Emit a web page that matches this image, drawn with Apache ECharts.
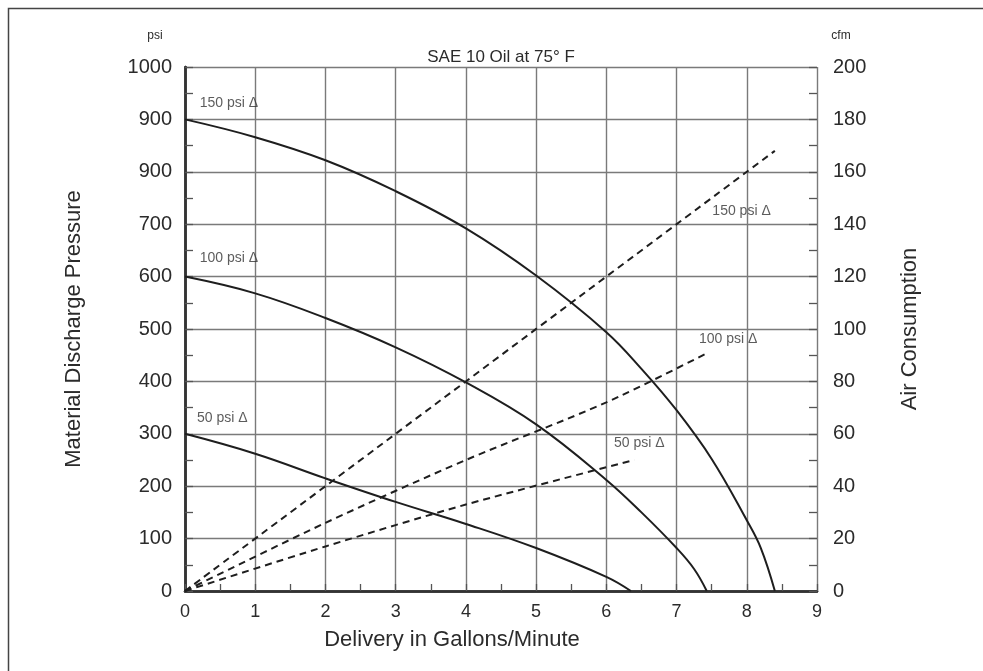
<!DOCTYPE html>
<html>
<head>
<meta charset="utf-8">
<script src="https://cdn.jsdelivr.net/npm/echarts@6/dist/echarts.min.js"></script>
<style>
html,body{margin:0;padding:0;background:#fff;}
#chart{width:983px;height:671px;}
</style>
</head>
<body>
<div id="chart"></div>
<script>
// ---- data ----
const xTicks = ['0','1','2','3','4','5','6','7','8','9'];
const pressureTickLabels = ['0','100','200','300','400','500','600','700','900','900','1000'];
const cfmTickLabels = ['0','20','40','60','80','100','120','140','160','180','200'];

// Material discharge pressure (psi) vs delivery (gpm)
const pressure150 = [[0,900],[1,866],[2,822],[3,763],[4,692],[5,602],[6,494],[6.5,424],[7,345],[7.5,252],[8,135],[8.2,82],[8.4,0]];
const pressure100 = [[0,600],[1,568],[2,521],[3,465],[4,398],[5,318],[6,212],[6.5,150],[7,82],[7.25,42],[7.43,0]];
const pressure50  = [[0,300],[1,262],[2,215],[3,170],[4,128],[5,82],[6,27],[6.35,0]];

// Air consumption (cfm) vs delivery (gpm)
const air150 = [[0,0],[8.4,168]];
const air100 = [[0,0],[2,26],[4,50],[6,72],[7.45,91]];
const air50  = [[0,0],[2,17],[4,33],[6.4,50]];

const pressureLabels = [[0.21,931,'150 psi Δ'],[0.21,635,'100 psi Δ'],[0.17,330,'50 psi Δ']];
const airLabels = [[7.51,145,'150 psi Δ'],[7.32,96,'100 psi Δ'],[6.11,56.5,'50 psi Δ']];

const titleText = 'SAE 10 Oil at 75° F';
const xName = 'Delivery in Gallons/Minute';
const yLeftName = 'Material Discharge Pressure';
const yRightName = 'Air Consumption';

// ---- chart ----
const FONT = 'Liberation Sans, Arial, sans-serif';
const INK = '#2b2b2b';
const chart = echarts.init(document.getElementById('chart'));

function solid(data){
  return {type:'line', xAxisIndex:0, yAxisIndex:0, data:data, smooth:0.4, showSymbol:false,
    lineStyle:{color:'#1e1e1e', width:2}, z:5, animation:false, silent:true};
}
function dashed(data){
  return {type:'line', xAxisIndex:0, yAxisIndex:1, data:data, smooth:0.3, showSymbol:false,
    lineStyle:{color:'#1e1e1e', width:2, type:[7,5]}, z:5, animation:false, silent:true};
}
function labelSeries(items, axisIdx){
  return {type:'scatter', yAxisIndex:axisIdx, symbolSize:0, animation:false, silent:true, z:6,
    data: items.map(d=>({value:[d[0],d[1]], name:d[2]})),
    label:{show:true, position:[0,0], align:'left', verticalAlign:'middle',
      formatter:p=>p.name, fontFamily:FONT, fontSize:14, color:'#333'}};
}
// tick-only axis (ticks coincide with grid lines where major, so only half-steps show)
function tickAxis(base, pos, interval, len){
  return Object.assign({}, base, {position:pos, interval:interval,
    axisLine:{show:false}, axisLabel:{show:false}, splitLine:{show:false},
    axisTick:{show:true, inside:true, length:len, lineStyle:{color:'#555', width:1.3}}});
}

const option = {
  backgroundColor:'#fff',
  animation:false,
  title:{text:titleText, left:496, top:44, textAlign:'center',
    textStyle:{fontFamily:FONT, fontSize:17, fontWeight:'normal', color:INK}},
  grid:{left:185, right:166, top:67, bottom:80},
  xAxis:[{
    type:'value', min:0, max:9, interval:1,
    axisLine:{show:true, lineStyle:{color:'#333', width:2.5}},
    axisTick:{show:false},
    axisLabel:{margin:12, fontFamily:FONT, fontSize:18, color:INK, formatter:(v)=>xTicks[Math.round(v)]},
    splitLine:{show:true, lineStyle:{color:'#7a7a7a', width:1.4}}
  },{
    type:'value', min:0, max:9, interval:1, position:'top',
    axisLine:{show:true, lineStyle:{color:'#333', width:2.5}},
    axisTick:{show:false}, axisLabel:{show:false}, splitLine:{show:false}
  },
  tickAxis({type:'value', min:0, max:9}, 'bottom', 0.5, 7)
  ],
  yAxis:[{
    type:'value', min:0, max:1000, interval:100, position:'left',
    name:yLeftName, nameLocation:'middle', nameGap:100,
    nameTextStyle:{fontFamily:FONT, fontSize:22, color:INK},
    axisLine:{show:true, lineStyle:{color:'#333', width:2.5}},
    axisTick:{show:false},
    axisLabel:{margin:13, fontFamily:FONT, fontSize:20, color:INK, formatter:(v)=>pressureTickLabels[Math.round(v/100)]},
    splitLine:{show:true, lineStyle:{color:'#7a7a7a', width:1.4}}
  },{
    type:'value', min:0, max:200, interval:20, position:'right',
    name:yRightName, nameLocation:'middle', nameGap:82, nameRotate:90,
    nameTextStyle:{fontFamily:FONT, fontSize:22, color:INK},
    axisLine:{show:true, lineStyle:{color:'#333', width:2.5}},
    axisTick:{show:false},
    axisLabel:{margin:16, fontFamily:FONT, fontSize:20, color:INK, formatter:(v)=>cfmTickLabels[Math.round(v/20)]},
    splitLine:{show:false}
  },
  tickAxis({type:'value', min:0, max:1000}, 'left', 50, 8),
  tickAxis({type:'value', min:0, max:200}, 'right', 10, 8)
  ],
  graphic:[
    {type:'rect', shape:{x:8.5, y:8.5, width:1000, height:700}, style:{fill:null, stroke:'#444', lineWidth:1.5}, silent:true},
    {type:'text', x:155, y:36, style:{text:'psi', fontFamily:FONT, fontSize:12, fill:INK, align:'center', verticalAlign:'middle'}},
    {type:'text', x:841, y:36, style:{text:'cfm', fontFamily:FONT, fontSize:12, fill:INK, align:'center', verticalAlign:'middle'}},
    {type:'text', x:452, y:640, style:{text:xName, fontFamily:FONT, fontSize:22, fill:INK, align:'center', verticalAlign:'middle'}}
  ],
  series:[
    solid(pressure150), solid(pressure100), solid(pressure50),
    dashed(air150), dashed(air100), dashed(air50),
    labelSeries(pressureLabels,0), labelSeries(airLabels,1)
  ]
};
chart.setOption(option);
</script>
</body>
</html>
